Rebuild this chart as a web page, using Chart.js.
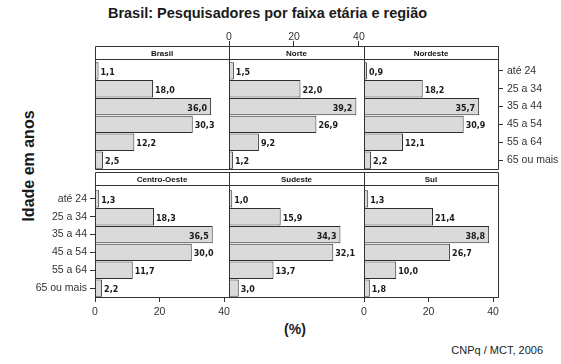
<!DOCTYPE html>
<html>
<head>
<meta charset="utf-8">
<script src="https://cdn.jsdelivr.net/npm/chart.js@4.4.1/dist/chart.umd.min.js"></script>
<style>
  body { margin: 0; background: #fff; }
  #wrap { position: relative; width: 561px; height: 364px; overflow: hidden; font-family: "Liberation Sans", Arial, sans-serif; color: #1a1a1a; }
  #wrap canvas { position: absolute; left: 0; top: 0; }
  .txt { position: absolute; white-space: nowrap; }
  #title { left: 0; width: 535px; top: 5px; text-align: center; font-weight: bold; font-size: 14.5px; line-height: 16px; }
  #ytitle { left: -71px; top: 156px; width: 200px; height: 20px; line-height: 20px; text-align: center; font-weight: bold; font-size: 16px; transform: rotate(-90deg); }
  #xtitle { left: 245px; top: 319px; width: 100px; height: 20px; line-height: 20px; text-align: center; font-weight: bold; font-size: 14px; }
  #source { right: 18px; top: 344px; font-size: 11px; line-height: 13px; color: #222; }
</style>
</head>
<body>
<div id="wrap">
  <div class="txt" id="title">Brasil: Pesquisadores por faixa etária e região</div>
  <div class="txt" id="ytitle">Idade em anos</div>
  <div class="txt" id="xtitle">(%)</div>
  <div class="txt" id="source">CNPq / MCT, 2006</div>
</div>
<script>
// data
const ageGroups = ['até 24', '25 a 34', '35 a 44', '45 a 54', '55 a 64', '65 ou mais'];
const regions = ['Brasil', 'Norte', 'Nordeste', 'Centro-Oeste', 'Sudeste', 'Sul'];
const brasil = [1.1, 18.0, 36.0, 30.3, 12.2, 2.5];
const norte = [1.5, 22.0, 39.2, 26.9, 9.2, 1.2];
const nordeste = [0.9, 18.2, 35.7, 30.9, 12.1, 2.2];
const centroOeste = [1.3, 18.3, 36.5, 30.0, 11.7, 2.2];
const sudeste = [1.0, 15.9, 34.3, 32.1, 13.7, 3.0];
const sul = [1.3, 21.4, 38.8, 26.7, 10.0, 1.8];
const xTickValues = [0, 20, 40];

const panelValues = [brasil, norte, nordeste, centroOeste, sudeste, sul];

// lattice layout
const W = 561, H = 364;
const xMax = 41.55;
const colEdges = [95, 229, 364, 498];
const rowBoxes = [
  { headTop: 46, headBottom: 59, top: 62, bottom: 169 },
  { headTop: 172, headBottom: 185, top: 190, bottom: 297 }
];
const xAxisAt = ['', 'top', '', 'bottom', '', 'bottom'];
const yAxisAt = ['', '', 'right', 'left', '', ''];
const AXIS_H = 30;

const tickFont = { family: '"Liberation Sans", Arial, sans-serif', size: 10.5 };

const panelFrame = {
  id: 'panelFrame',
  afterDraw(chart, args, opts) {
    const ctx = chart.ctx;
    const { L, R, box, name } = opts;
    ctx.save();
    // keep the space between header and bars clean
    ctx.fillStyle = '#fff';
    ctx.fillRect(L + 1, box.headTop + 1, R - L - 1, box.top - box.headTop - 1);
    ctx.strokeStyle = '#333';
    ctx.lineWidth = 1;
    ctx.beginPath();
    ctx.moveTo(L + 0.5, box.headTop + 0.5);
    ctx.lineTo(R + 0.5, box.headTop + 0.5);
    ctx.moveTo(L + 0.5, box.headBottom + 0.5);
    ctx.lineTo(R + 0.5, box.headBottom + 0.5);
    ctx.moveTo(L + 0.5, box.headTop + 0.5);
    ctx.lineTo(L + 0.5, box.bottom + 0.5);
    ctx.moveTo(R + 0.5, box.headTop + 0.5);
    ctx.lineTo(R + 0.5, box.bottom + 0.5);
    ctx.moveTo(L + 0.5, box.bottom + 0.5);
    ctx.lineTo(R + 0.5, box.bottom + 0.5);
    ctx.stroke();
    ctx.fillStyle = '#111';
    ctx.font = 'bold 8px "Liberation Sans", Arial, sans-serif';
    ctx.textAlign = 'center';
    ctx.textBaseline = 'middle';
    ctx.fillText(name, (L + R) / 2, (box.headTop + box.headBottom) / 2 + 1);
    ctx.restore();
  }
};

const barLabels = {
  id: 'barLabels',
  afterDatasetsDraw(chart) {
    const ctx = chart.ctx;
    const vals = chart.data.datasets[0].data;
    ctx.save();
    ctx.font = 'bold 8px "DejaVu Sans", sans-serif';
    ctx.fillStyle = '#1a1a1a';
    ctx.textBaseline = 'middle';
    chart.getDatasetMeta(0).data.forEach((bar, k) => {
      const v = vals[k];
      const txt = v.toFixed(1).replace('.', ',');
      if (v >= 33) {
        ctx.textAlign = 'right';
        ctx.fillText(txt, bar.x - 4, bar.y + 2);
      } else {
        ctx.textAlign = 'left';
        ctx.fillText(txt, bar.x + 2, bar.y + 2);
      }
    });
    ctx.restore();
  }
};

regions.forEach((name, i) => {
  const col = i % 3, row = Math.floor(i / 3);
  const L = colEdges[col], R = colEdges[col + 1];
  const box = rowBoxes[row];
  const xPos = xAxisAt[i], yPos = yAxisAt[i];

  const canvas = document.createElement('canvas');
  canvas.width = W;
  canvas.height = H;
  document.getElementById('wrap').appendChild(canvas);

  new Chart(canvas, {
    type: 'bar',
    data: {
      labels: ageGroups,
      datasets: [{
        data: panelValues[i],
        backgroundColor: '#dadada',
        borderColor: '#2e2e2e',
        borderWidth: 1,
        barPercentage: 0.97,
        categoryPercentage: 1
      }]
    },
    options: {
      indexAxis: 'y',
      responsive: false,
      animation: false,
      devicePixelRatio: 1,
      layout: {
        padding: {
          left: yPos === 'left' ? 0 : L,
          right: yPos === 'right' ? 0 : W - R,
          top: xPos === 'top' ? box.top - AXIS_H : box.top,
          bottom: xPos === 'bottom' ? H - box.bottom - AXIS_H : H - box.bottom
        }
      },
      plugins: {
        legend: { display: false },
        tooltip: { enabled: false },
        panelFrame: { L, R, box, name }
      },
      scales: {
        x: {
          display: !!xPos,
          position: xPos || 'bottom',
          min: 0,
          max: xMax,
          afterBuildTicks: s => { s.ticks = xTickValues.map(v => ({ value: v })); },
          afterFit: s => { if (xPos) s.height = AXIS_H; },
          grid: { drawOnChartArea: false, tickLength: xPos === 'top' ? 21 : 5, color: '#333' },
          border: { display: false },
          ticks: { color: '#333', font: tickFont, padding: xPos === 'top' ? -2 : 4, maxRotation: 0 }
        },
        y: {
          display: !!yPos,
          position: yPos || 'left',
          afterFit: s => { if (yPos) s.width = yPos === 'right' ? W - R : L; },
          grid: { offset: false, drawOnChartArea: false, tickLength: 5, color: '#333' },
          border: { display: false },
          ticks: { color: '#333', font: tickFont, padding: yPos === 'right' ? 4 : 3, autoSkip: false }
        }
      }
    },
    plugins: [barLabels, panelFrame]
  });
});
</script>
</body>
</html>
